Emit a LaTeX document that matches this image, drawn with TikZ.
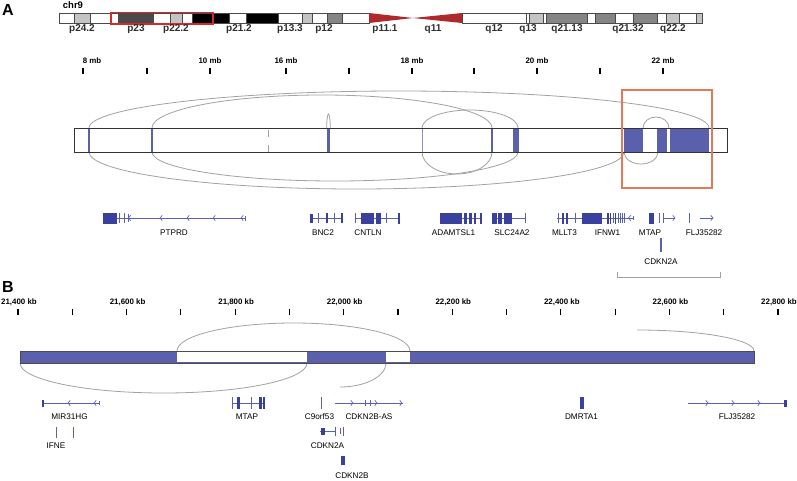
\documentclass[tikz,border=0pt]{standalone}
\usepackage{fontspec}
\setmainfont{Liberation Sans}
\definecolor{genec}{HTML}{3A409E}
\definecolor{genel}{HTML}{5A60B4}
\definecolor{barblue}{HTML}{5A60AC}
\definecolor{arcg}{HTML}{A2A2A2}
\definecolor{lgray}{HTML}{C4C4C4}
\definecolor{mgray}{HTML}{858585}
\definecolor{dgray}{HTML}{4A4A4A}
\definecolor{cenred}{HTML}{B0282C}
\definecolor{boxred}{HTML}{D42A2A}
\definecolor{boxor}{HTML}{E07A5C}
\tikzset{
  gl/.style={draw=genel, line width=0.7pt},
  arcl/.style={draw=arcg, line width=0.8pt},
  glab/.style={font=\fontsize{8.2}{9}\selectfont, inner sep=0pt},
  tlab/.style={font=\bfseries\fontsize{7.9}{9}\selectfont, inner sep=0pt},
  blab/.style={font=\bfseries\fontsize{10}{11}\selectfont, text=black!82, inner sep=0pt},
  plab/.style={font=\bfseries\fontsize{16}{18}\selectfont, inner sep=0pt},
  tk/.style={draw=black, line width=1.1pt},
  band/.style={draw=dgray, line width=0.4pt}
}
\newcommand\chevL[2]{\draw[gl] ({#1+2.2},{#2-2.6}) -- (#1,#2) -- ({#1+2.2},{#2+2.6});}
\newcommand\chevR[2]{\draw[gl] ({#1-2.2},{#2-2.6}) -- (#1,#2) -- ({#1-2.2},{#2+2.6});}
\newcommand\gtick[3]{\draw[gl] (#1,{#2-#3}) -- (#1,{#2+#3});}
\newcommand\gex[4]{\fill[genec] (#1,{#3-#4}) rectangle (#2,{#3+#4});}
\begin{document}
\begin{tikzpicture}[x=1pt,y=-1pt]
\useasboundingbox (0,0) rectangle (797,480);
\fill[white] (0,0) rectangle (797,480);

% ---------------- Panel A ----------------
\node[plab] (labA) at (8,10) {A};
\node[font=\bfseries\fontsize{9.5}{10}\selectfont, inner sep=0pt] (chr) at (73,5) {chr9};

% ideogram bands
\foreach \a/\b/\c in {59/74/white,74/90/lgray,90/111/white,111/118/white,118/153/dgray,
  153/170/white,170/182/lgray,182/192/white,192/213/black,213/229/black,229/246/white,
  246/278/black,278/302/white,302/312/lgray,312/327/white,327/342/mgray,342/369/white,
  462/526/white,526/529/white,529/543/lgray,543/546/white,546/587/mgray,587/595/white,
  595/615/mgray,615/633/white,633/657/mgray,657/666/white,666/679/lgray,679/696/white,696/702/lgray}
  {\filldraw[band, fill=\c] (\a,13) rectangle (\b,23);}
\fill[cenred] (369,13) -- (413,18) -- (369,23) -- cycle;
\fill[cenred] (462,13) -- (413,18) -- (462,23) -- cycle;
\draw[boxred, line width=1.6pt] (111,12.3) rectangle (213,24);

\foreach \x/\t in {82/p24.2,136/p23,176/p22.2,239/p21.2,290/p13.3,324/p12,385/p11.1,
  433/q11,494/q12,528/q13,567/q21.13,628/q21.32,673/q22.2}
  {\node[blab] at (\x,29.5) {\t};}

% scale A
\foreach \x in {83,147,210,286,349,412,474,537,600,663}
  {\draw[tk] (\x,68) -- (\x,74);}
\foreach \x/\t in {92/8 mb,210/10 mb,286/16 mb,412/18 mb,537/20 mb,663/22 mb}
  {\node[tlab] at (\x,60.5) {\t};}

% breakpoints
\coordinate (u89) at (89,128);   \coordinate (d89) at (89,152);
\coordinate (u152) at (152,128); \coordinate (d152) at (152,152);
\coordinate (u327) at (326.7,128);
\coordinate (u422) at (422,128); \coordinate (d422) at (422,152);
\coordinate (u643) at (643,128); \coordinate (d624) at (624,152);

% arcs A
\draw[arcl] (u89) arc[start angle=180, end angle=360, x radius=310, y radius=37];
\draw[arcl] (u152) arc[start angle=180, end angle=360, x radius=170, y radius=33];
\draw[arcl] (u422) arc[start angle=180, end angle=360, x radius=48, y radius=18];
\draw[arcl] (u327) arc[start angle=180, end angle=360, x radius=1.8, y radius=14];
\draw[arcl] (u643) arc[start angle=180, end angle=360, x radius=13, y radius=11];
\draw[arcl] (d89) arc[start angle=180, end angle=0, x radius=267.5, y radius=37];
\draw[arcl] (d152) arc[start angle=180, end angle=0, x radius=183, y radius=29];
\draw[arcl] (d422) arc[start angle=180, end angle=0, x radius=35, y radius=22];
\draw[arcl] (d624) arc[start angle=180, end angle=0, x radius=17, y radius=12];

% bar A
\draw[draw=black!80, line width=0.8pt, fill=white] (74,128) rectangle (727,152);
\foreach \a/\b in {88/90.3,151/153.3,326.5/330,491/493,513/519,624/643,657/666.5,669.5/708.5}
  {\fill[barblue] (\a,128.4) rectangle (\b,151.6);}
\draw[genel!70, line width=0.5pt] (422,128.4) -- (422,151.6);
\draw[arcg, line width=0.8pt] (268,130) -- (268,137) (268,145) -- (268,152);
\draw[draw=black!80, line width=0.8pt] (74,128) rectangle (727,152);
\draw[boxor, line width=1.3pt] (622,90) rectangle (712,188);

% genes A (y = 218)
\def\gy{218}
% PTPRD
\draw[gl] (117,\gy) -- (245,\gy);
\gex{103}{117}{\gy}{5.5}
\gtick{119.5}{\gy}{5}\gtick{124}{\gy}{5}\gtick{128}{\gy}{4}
\chevL{128.5}{\gy}\chevL{160}{\gy}\chevL{187}{\gy}\chevL{213}{\gy}\chevL{241}{\gy}
\gtick{245}{\gy}{2.5}
\node[glab] (ptprd) at (174,233) {PTPRD};
% BNC2
\draw[gl] (310,\gy) -- (342,\gy);
\gex{310}{312.5}{\gy}{4.5}\gtick{318}{\gy}{5}\gex{325.5}{327.5}{\gy}{5}\gtick{334}{\gy}{5}\gex{340.5}{342.5}{\gy}{5}
\node[glab] (bnc2) at (323,233) {BNC2};
% CNTLN
\draw[gl] (355,\gy) -- (400,\gy);
\gtick{355.5}{\gy}{5}\gex{361}{374}{\gy}{5.5}\gex{376}{381}{\gy}{5.5}\gtick{386}{\gy}{5}\gex{397.5}{400}{\gy}{5.5}
\node[glab] (cntln) at (368,233) {CNTLN};
% ADAMTSL1
\draw[gl] (440,\gy) -- (482,\gy);
\gex{440}{462}{\gy}{5.5}\gex{464}{467}{\gy}{5.5}\gex{469}{471.5}{\gy}{5.5}\gex{474}{476}{\gy}{5.5}\gex{479.5}{482}{\gy}{5.5}
\node[glab] (adam) at (453.5,233) {ADAMTSL1};
% SLC24A2
\draw[gl] (492,\gy) -- (525,\gy);
\gex{492}{497}{\gy}{5.5}\gex{498}{502}{\gy}{5.5}\gex{504}{512}{\gy}{5.5}\gtick{525}{\gy}{5}
\node[glab] (slc) at (512,233) {SLC24A2};
% MLLT3
\draw[gl] (557,\gy) -- (633,\gy);
\gtick{558}{\gy}{5}\gex{561.5}{564}{\gy}{5.5}\gex{565.5}{568}{\gy}{5.5}\gtick{575}{\gy}{5}\gex{582}{602}{\gy}{5.5}
\node[glab] (mllt3) at (564.5,233) {MLLT3};
% IFNW1
\gex{607}{608.5}{\gy}{5.5}\gex{609.5}{611}{\gy}{5.5}\gtick{613}{\gy}{5}\gex{614.5}{616}{\gy}{5.5}\gtick{618}{\gy}{5}\gtick{620}{\gy}{5}\gtick{622}{\gy}{5}\gtick{624}{\gy}{5}
\chevL{628.5}{\gy}\gtick{633}{\gy}{2}
\node[glab] (ifnw1) at (607.5,233) {IFNW1};
% MTAP
\gex{649}{653.5}{\gy}{5.5}\gtick{659.5}{\gy}{5}\gtick{663.5}{\gy}{5}
\draw[gl] (663.5,\gy) -- (675,\gy);\chevR{675}{\gy}
\node[glab] (mtapA) at (650,233) {MTAP};
% FLJ35282
\gtick{689.5}{\gy}{5}
\draw[gl] (700,\gy) -- (713,\gy);\chevR{713}{\gy}
\node[glab] (fljA) at (704,233) {FLJ35282};
% CDKN2A
\draw[gl, line width=0.6pt] (659.8,238) -- (659.8,252) (661.6,238) -- (661.6,252);
\node[glab] (cdknA) at (661,262) {CDKN2A};
% bracket
\draw[arcg, line width=0.8pt] (617,272) -- (617,277) -- (720,277) -- (720,272);

% ---------------- Panel B ----------------
\node[plab] (labB) at (8,287) {B};
\foreach \i in {0,...,14}
  {\draw[tk] ({18+\i*54.286},309) -- ({18+\i*54.286},314.5);}
\foreach \i/\t in {0/{21,400 kb},2/{21,600 kb},4/{21,800 kb},6/{22,000 kb},8/{22,200 kb},10/{22,400 kb},12/{22,600 kb},14/{22,800 kb}}
  {\node[tlab] at ({19+\i*54.286},302) {\t};}

\coordinate (bu177) at (177,351);
\coordinate (bd20) at (20,363);
\coordinate (bd386) at (386,363);
\coordinate (bfree) at (637,330);

\draw[arcl] (bu177) arc[start angle=180, end angle=360, x radius=116.5, y radius=28];
\draw[arcl] (bfree) arc[start angle=270, end angle=360, x radius=117, y radius=21];
\draw[arcl] (bd20) arc[start angle=180, end angle=0, x radius=143.5, y radius=30];
\draw[arcl] (bd386) arc[start angle=0, end angle=90, x radius=46, y radius=24];

\fill[barblue] (20,351) rectangle (754,363);
\fill[white] (177,351.6) rectangle (307,362.4);
\fill[white] (386,351.6) rectangle (410,362.4);
\draw[black!70, line width=0.8pt] (20,351) rectangle (754,363);

% genes B (y = 403)
\def\hy{403}
% MIR31HG
\draw[gl] (42,\hy) -- (99,\hy);
\gex{41.5}{44}{\hy}{3.5}\chevL{68}{\hy}\chevL{94}{\hy}\gtick{99}{\hy}{2}
\node[glab] (mir) at (69.5,417) {MIR31HG};
% IFNE
\draw[gl] (56,427) -- (56,438) (73,427) -- (73,438);
\node[glab] (ifne) at (56,446) {IFNE};
% MTAP
\draw[gl] (232,\hy) -- (265,\hy);
\gtick{232.5}{\hy}{6}\gex{236.5}{240}{\hy}{6}\gtick{251}{\hy}{6}\gex{259}{261.5}{\hy}{6}\gex{262.5}{265}{\hy}{6}
\node[glab] (mtapB) at (247,417) {MTAP};
% C9orf53
\gtick{321}{\hy}{6}
\node[glab] (c9) at (319.5,417) {C9orf53};
% CDKN2B-AS
\draw[gl] (335,\hy) -- (403,\hy);
\chevR{353}{\hy}\gtick{365}{\hy}{3}\gtick{370}{\hy}{3}\chevR{377}{\hy}\chevR{402}{\hy}
\node[glab] (cdkn2bas) at (369,417) {CDKN2B-AS};
% CDKN2A
\draw[gl] (320,431) -- (335,431);
\fill[genec] (320.5,427.5) rectangle (324.5,434.5);
\gtick{335}{431}{4.5}\gtick{340.5}{431}{3}\gtick{343.5}{431}{4.5}
\node[glab] (cdkn2a) at (327.5,446) {CDKN2A};
% CDKN2B
\fill[genec] (340.5,456) rectangle (344.5,465);
\node[glab] (cdkn2b) at (352,476) {CDKN2B};
% DMRTA1
\fill[genec] (580,397) rectangle (584,409);
\node[glab] (dmrta1) at (581.5,417) {DMRTA1};
% FLJ35282
\draw[gl] (688,\hy) -- (786,\hy);
\chevR{708}{\hy}\chevR{734}{\hy}\chevR{760}{\hy}
\gex{784}{787}{\hy}{3.5}
\node[glab] (fljB) at (737,417) {FLJ35282};
\end{tikzpicture}
\end{document}
